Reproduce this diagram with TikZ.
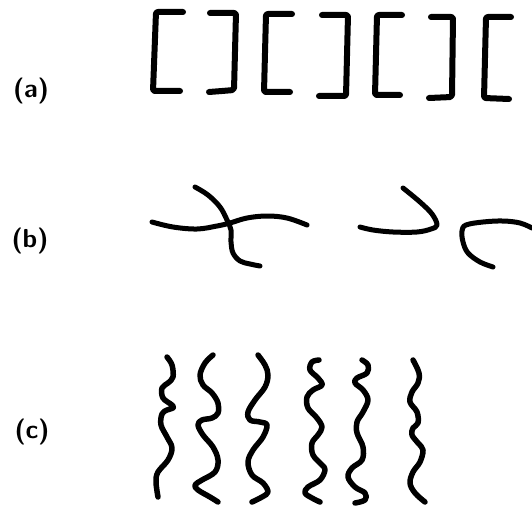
\documentclass[tikz,border=0pt]{standalone}
\begin{document}
\begin{tikzpicture}[x=1pt,y=-1pt,
  bracket/.style={line width=6pt,line cap=round,line join=round,rounded corners=2pt},
  stroke/.style={line width=5pt,line cap=round,line join=round},
  wave/.style={line width=5.5pt,line cap=round,line join=round},
  lbl/.style={font=\sffamily\bfseries\fontsize{26}{28}\selectfont,inner sep=0pt}]
\useasboundingbox (0,0) rectangle (532,508);
% labels
\node[lbl] (la) at (31,91) {(a)};
\node[lbl] (lb) at (30,241) {(b)};
\node[lbl] (lc) at (32,432) {(c)};
% (a) brackets
\draw[bracket] (183,12) -- (156,12) -- (153,91) -- (180,91);
\draw[bracket] (210,13) -- (236,13) -- (234,90) -- (222,91) -- (209,92);
\draw[bracket] (292,14) -- (266,14) -- (264,92) -- (290,92);
\draw[bracket] (322,15) -- (348,15) -- (346,96) -- (319,96);
\draw[bracket] (402,15) -- (377,15) -- (375,95) -- (400,95);
\draw[bracket] (431,17) -- (453,17) -- (452,97) -- (429,98);
\draw[bracket] (511,17) -- (486,17) -- (484,98) -- (509,99);
% (b) strokes
\draw[stroke] plot[smooth,tension=0.6] coordinates {(152,222) (173,227) (197,229) (217,226) (230,223) (247,218) (267,216) (287,218) (307,225)};
\draw[stroke] plot[smooth,tension=0.6] coordinates {(195,187) (208,195) (220,207) (227,220) (231,230) (231,242) (233,253) (240,261) (250,264) (260,266)};
\draw[stroke] plot[smooth,tension=0.6] coordinates {(403,188) (420,202) (432,214) (437,225) (431,229) (417,232) (393,232) (373,230) (360,227)};
\draw[stroke] plot[smooth,tension=0.6] coordinates {(532,228) (520,223) (503,221) (483,222) (466,225) (462,231) (463,242) (468,253) (480,262) (493,267)};
% (c) waves
\draw[wave] plot[smooth,tension=0.6] coordinates {(167,357) (172,365) (173,377) (168,383) (162,388) (163,398) (172,405) (173,408) (167,410) (162,414) (161,425) (167,437) (172,448) (168,460) (158,472) (156,482) (158,497)};
\draw[wave] plot[smooth,tension=0.6] coordinates {(213,355) (205,363) (200,375) (203,385) (212,393) (218,403) (218,413) (212,418) (202,420) (198,425) (203,435) (213,447) (218,460) (215,472) (202,480) (195,485) (198,490) (210,497) (218,502)};
\draw[wave] plot[smooth,tension=0.6] coordinates {(258,355) (265,365) (268,375) (265,387) (255,400) (248,412) (250,420) (260,422) (267,425) (263,437) (253,450) (248,462) (252,475) (263,483) (268,492) (262,497) (252,502)};
\draw[wave] plot[smooth,tension=0.6] coordinates {(319,360) (312,362) (310,370) (318,378) (322,385) (313,390) (307,397) (308,408) (317,418) (322,427) (318,435) (312,443) (313,455) (322,465) (325,470) (320,480) (308,487) (305,493) (312,498) (320,502)};
\draw[wave] plot[smooth,tension=0.6] coordinates {(362,360) (368,365) (367,373) (357,378) (355,383) (363,390) (368,400) (363,412) (357,422) (357,433) (363,447) (362,460) (352,468) (348,477) (355,487) (365,493) (365,500) (355,503)};
\draw[wave] plot[smooth,tension=0.6] coordinates {(413,360) (419,373) (418,383) (412,392) (410,402) (417,412) (418,423) (413,428) (412,435) (418,443) (423,450) (420,462) (413,472) (410,483) (415,493) (425,502)};
\end{tikzpicture}
\end{document}
